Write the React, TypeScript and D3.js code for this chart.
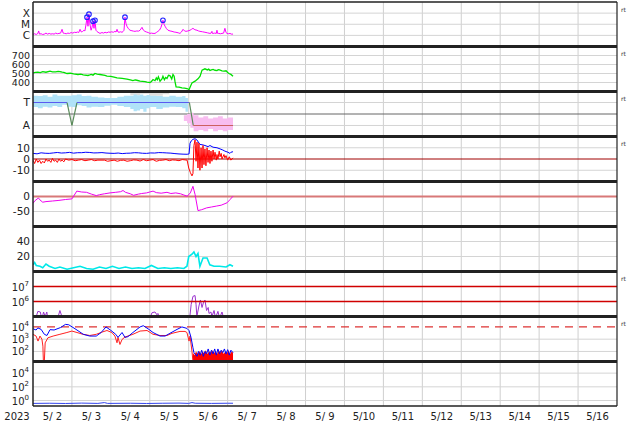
import React from "react";
import * as d3 from "d3";

type P = [number, number];
type B = [number, number, number];

// ---------------- data (hours since 2023-05-02 00:00 UT) ----------------
const yearLabel = "2023";
const dayLabels = ["5/ 2", "5/ 3", "5/ 4", "5/ 5", "5/ 6", "5/ 7", "5/ 8", "5/ 9", "5/10", "5/11", "5/12", "5/13", "5/14", "5/15", "5/16"];

// X-ray flux in 1e-6 W/m2
const xrayMicro: P[] = [[0,1.2],[1,1.4],[2,1.2],[3,1.5],[3.5,2.5],[4,1.3],[5,1.4],[6,1.2],[7,1.3],[8,1.6],[9,1.3],[10,1.5],[11,1.3],[12,1.4],[13,1.3],[14,1.6],[15,1.4],[16,1.5],[17,1.6],[17.9,3.5],[18.6,1.6],[19.5,1.5],[20.5,1.4],[21.5,1.6],[22.5,1.5],[23.5,1.8],[24.5,1.6],[25.5,1.9],[26.5,1.8],[27.5,2.0],[28.2,1.8],[29,3.5],[29.8,2.0],[30.5,2.2],[31.4,2.9],[32,2.5],[32.7,10],[33.3,43],[33.9,6.6],[34.5,81],[35.1,10],[35.8,2.9],[36.4,5.3],[37,19],[37.6,4.3],[38.2,23],[38.8,2.9],[39.5,2.2],[40.1,1.9],[41.3,1.5],[42.5,1.8],[43.5,1.6],[44.4,1.9],[45.5,1.7],[46.5,2.0],[47.5,1.9],[48.5,2.1],[49.5,1.9],[50.5,2.3],[51.2,2.0],[51.8,3.5],[52.4,2.0],[53,1.9],[54,2.1],[54.9,1.9],[55.5,2.2],[56.1,2.9],[56.7,43],[57.3,12],[57.9,6.6],[58.8,4],[59.8,2.9],[61,2.6],[62,2.4],[62.9,2.3],[64,2.5],[65,2.4],[66,2.9],[67.2,5.3],[68,3],[69,2.3],[70,2.0],[71,1.8],[72.1,1.5],[73,1.6],[74,1.5],[75.2,1.5],[76,1.8],[77,2.3],[78,3],[78.9,5.3],[79.5,10],[80.1,23],[80.8,10],[81.4,6.6],[82.3,4],[83.2,2.9],[84.5,2.5],[85.7,2.3],[87,2.0],[88.1,1.9],[89.5,1.7],[90.6,1.5],[91.5,2.0],[92.5,3.5],[93.4,2.5],[94.3,2.3],[95.5,2.5],[96.8,2.9],[97.7,3.5],[98.6,4.3],[99.8,3.2],[101.1,2.9],[102,2.5],[102.9,2.3],[104.5,2.1],[106,1.9],[107.5,1.7],[109.1,1.5],[109.8,1.6],[110.3,2.3],[110.6,1.5],[111,1.5],[112,1.6],[113,1.5],[113.4,2.9],[113.8,1.5],[114.5,1.5],[115.5,1.4],[116.5,1.5],[117.5,1.6],[118.3,4.3],[119,1.8],[119.6,1.5],[120.5,1.4],[121.4,1.5],[122.3,1.3],[123.3,1.3]];
const flaresMicro: P[] = [[33.3,43],[34.5,81],[37,19],[38.2,23],[56.7,43],[80.1,23]];
const xrayTicks = [100, 10, 1];
const xrayTickLabels = ["X", "M", "C"];

const speed: P[] = [[0,507],[1.5,512],[3,515],[4.5,510],[6,520],[8,514],[10.5,526],[12,519],[14,518],[15.5,524],[16.6,522],[18,515],[19,512],[21,500],[23,503],[25,495],[27.7,489],[29.5,492],[31,485],[33.9,478],[35,484],[36,490],[37,482],[38.2,500],[39.5,492],[41.3,489],[44.4,478],[45.6,470],[48,468],[50,460],[51.8,452],[55,445],[57.9,438],[60,430],[61.6,422],[63,428],[64,425],[66,415],[69,410],[70.3,404],[72.1,400],[73,412],[74,433],[75.2,420],[76,450],[76.6,430],[77.3,463],[78.3,415],[79.5,440],[80.1,470],[81,430],[81.8,455],[82.6,445],[83.5,480],[84.4,478],[85.5,440],[86.3,489],[87,470],[87.5,415],[88.2,352],[90,348],[91.8,341],[93.5,338],[94.9,333],[96.2,322],[98,396],[99.9,415],[101.7,441],[103,470],[104.2,537],[106,552],[107.5,540],[108.3,548],[109.1,533],[110,540],[111,545],[112.2,536],[113.4,533],[114.2,542],[115,540],[116.5,530],[117.7,526],[119,530],[120,512],[120.8,500],[122,490],[123.3,470]];
const speedTicks = [700, 600, 500, 400];

const sector: P[] = [[0,1],[21,1],[24,0],[27.1,1],[96.4,1],[98.8,0],[123.3,0]];
const sectorTicks = [1, 0];
const sectorTickLabels = ["T", "A"];
const phiToward: B[] = [[0,0.8,1.3],[3,0.75,1.28],[6,0.82,1.32],[9,0.78,1.25],[12,0.85,1.35],[15,0.8,1.3],[18,0.9,1.3],[21,0.82,1.3],[24,0.8,1.32],[27,0.88,1.35],[30,0.85,1.28],[33,0.78,1.3],[36,0.82,1.25],[40,0.8,1.22],[44,0.86,1.2],[48,0.9,1.2],[52,0.85,1.25],[56,0.8,1.3],[60,0.72,1.3],[62,0.62,1.35],[64,0.65,1.32],[66,0.72,1.35],[68,0.6,1.3],[70,0.75,1.33],[72,0.8,1.3],[76,0.72,1.28],[80,0.78,1.25],[84,0.82,1.3],[88,0.8,1.25],[92,0.75,1.28],[94,0.6,1.2],[95.5,0.6,1.2]];
const phiAway: B[] = [[93,0.2,0.45],[95,0.1,0.5],[97,-0.1,0.55],[99,-0.25,0.45],[102,-0.2,0.35],[105,-0.25,0.4],[108,-0.15,0.3],[111,-0.25,0.35],[114,-0.2,0.4],[117,-0.25,0.3],[120,-0.2,0.35],[123.3,-0.15,0.25]];
const phiGray: B[] = [[60,1.32,1.46],[66,1.38,1.46],[72,1.3,1.46],[80,1.36,1.46],[84,1.42,1.46]];

const bt: P[] = [[0,5],[2.5,4.6],[5,5.5],[7.5,5.1],[10,5],[12.5,5.4],[15,5.8],[17.5,5.3],[20,5.5],[22.5,5.9],[25,5.2],[27.5,5.6],[30,5.6],[32.5,6],[35,5.8],[37.5,5.4],[40,5.5],[42.5,5.7],[45,5.3],[47.5,5.1],[50,5],[52.5,5.3],[55,4.8],[57.5,5.1],[60,5.2],[62.5,5.6],[65,5.5],[67.5,5.1],[70,5],[72.5,5.4],[75,5.3],[77.5,5.7],[80,5.6],[82.5,5.4],[85,5.2],[87.5,4.8],[90,4.5],[92.5,4.3],[95,4.2],[96.2,4.5],[96.8,14],[97.5,16],[98.6,17.5],[99.9,18],[101,17],[102.9,13],[104.8,12.5],[106,12],[107.9,11],[109.1,12],[111,10.5],[113.4,10],[115.3,9],[117,8],[118.3,7],[120.2,6],[121.4,5],[122,6],[123.3,6.5]];
const bz: P[] = [[0,-1],[1,-4],[2,0],[3,-3],[4,-1],[5,-4],[6,-2],[7,-3.5],[8,0],[9,-2],[10,-1],[11,-3],[12,0.5],[13,-2],[14,-1],[15,-3],[16,0],[17,-2],[18,-1],[19,-2.5],[20,0],[22,-1],[24,-0.5],[26,-1.5],[28,-1],[30,-0.5],[32,-1.5],[34,-1],[36,-0.5],[38,-1.5],[40,-1],[44,-1],[46,-2],[48,-1.5],[50,-1],[52,-2],[54,-1.2],[56,-1],[58,-2],[60,-1.5],[62,-0.8],[64,-1],[66,-1.8],[68,-0.5],[70,-1.5],[72,-1],[74,-0.5],[76,-2],[78,-1.2],[80,-1],[82,-0.5],[84,-1.5],[86,-0.8],[88,-1],[90,-1.5],[92,-0.5],[95,-1],[96,-8],[97,-12],[98,-15],[98.6,-13],[99.2,12],[99.9,17],[100.5,-2],[101.1,15],[101.7,-8],[102.3,14],[102.9,-10],[103.6,10],[104.2,-8],[104.8,12],[105.4,-5],[106,9],[106.6,-6],[107.3,10],[107.9,-3],[108.5,8],[109.1,-4],[109.7,7],[110.3,-2],[111,8],[111.6,0],[112.2,6],[113,-1],[113.4,4],[114,0],[114.8,7],[115.3,2],[116,5],[116.5,0],[117.7,4],[118.3,1],[119,3],[120,-1],[121,2],[122,-1],[123.3,1]];
const imfTicks = [10, 0, -10];

const dst: P[] = [[0,-23],[1,-15],[3.3,-5],[5,-15],[6,-19],[8,-17],[12,-15],[16,-13],[20,-10],[24,-8],[25.5,5],[27,18],[30,15],[33,14],[36,8],[39,3],[41,6],[44,9],[47.5,12],[51,14],[54,16],[55.5,20],[57,14],[60,9],[62,4],[65,8],[67,10],[70,12],[72,15],[74,18],[76,13],[79,11],[82.6,14],[85,10],[88,12],[91,9],[93,5],[95,1],[97,12],[98.6,34],[99.9,7],[101.7,-47],[104,-44],[107,-38],[110,-35],[113,-32],[116,-29],[119.6,-21],[121.5,-10],[123.3,1]];
const dstTicks = [0, -50];

const density: P[] = [[0,9],[1,12],[2,8],[4.3,7],[6,5],[8,10],[10,7],[13.6,4],[16.6,6],[21,3],[25,5],[29,7],[33,4],[37,3],[41,6],[45,4],[49,7],[53,4],[57,6],[61,4],[65,5],[69,4],[73,8],[77,4],[81,5],[85,4],[89,5],[93,4],[94.9,7],[96,20],[98,23],[99.2,26],[100.5,20],[101.7,24],[102.9,7],[104.8,18],[107.3,18],[109,9],[111.6,7],[115,7],[119,6],[121.4,9],[123.3,7]];
const densityTicks = [40, 20];

const electrons: P[] = [[0,3.2e4],[2,1e5],[3,2.2e5],[4.5,2e5],[5.5,6.3e4],[6.5,2e5],[7.5,1e5],[8.5,2e5],[9.5,4e4],[14,3.2e4],[15.5,1e5],[16.6,2.5e5],[17.8,1e5],[19,3.2e4],[30,4e4],[47,6.3e4],[48,1e5],[49,5e4],[62,6.3e4],[63,1e5],[64,6.3e4],[70,4e4],[72,8e4],[73.4,1.8e5],[75.2,2e5],[76.4,1.3e5],[77,1.6e5],[78,8e4],[90,4e4],[96.5,6.3e4],[97.5,6.3e5],[98.6,2.2e6],[99.9,2.5e6],[100.5,6.3e5],[101,1e5],[102.3,5e5],[103.2,1.26e6],[104.2,4e5],[105,8e5],[106,1.26e6],[107,2.5e5],[108,4e5],[108.5,1.6e5],[109.7,2e5],[110.3,1e5],[111.6,2.5e5],[112.5,8e4],[114,2.2e5],[115,8e4],[116.5,2e5],[117.5,8e4],[120,5e4],[123,1e5]];
const electronTicks = [1e7, 1e6];

const protonBlue: P[] = [[0,7.1e3],[1.9,5.6e3],[3,8.3e3],[5,6.3e3],[7,2.5e3],[8.6,2e3],[10.5,6e3],[13,5.6e3],[17,8.9e3],[20,1.6e4],[22,1.5e4],[26.5,6.3e3],[31,2.5e3],[35,1.8e3],[39,1.8e3],[42,3.5e3],[45,1e4],[48,5.2e3],[51,2.5e3],[52.4,1.4e3],[54.9,3.5e3],[56.7,1.4e3],[58.5,1.6e3],[61.6,3.5e3],[66,1e4],[68,1.26e4],[70.9,7.1e3],[74,3.5e3],[78.3,1.8e3],[81.4,1.8e3],[84.4,3e3],[88.8,6.3e3],[91.8,1e4],[94.9,7.6e3],[96.2,5e3],[97.4,1.4e3],[98.6,200],[99.2,80],[101.1,40],[102,100],[103,50],[104,126],[105,40],[106,100],[107,63],[108,160],[109,50],[110,126],[111,63],[112,160],[113,50],[114,160],[115,63],[116,126],[117,80],[118,160],[119,63],[120,140],[121,50],[122,126],[123.3,80]];
const protonRed: P[] = [[0,2.5e3],[1.9,1.8e3],[3.1,700],[4.3,1.8e3],[5.5,1e3],[6.1,270],[6.4,16],[7,16],[7.5,500],[9.2,1.3e3],[12.4,1.8e3],[16.6,2.5e3],[20.9,3.5e3],[24,4.6e3],[27.1,3.5e3],[30.8,2.5e3],[35,2e3],[39,2.5e3],[43.1,4e3],[45.6,5.1e3],[48.6,3.5e3],[50.5,1.8e3],[51.8,510],[52.4,1.4e3],[53.6,370],[54.9,950],[56.7,1.5e3],[61.6,2.5e3],[66,4.6e3],[70.3,5.1e3],[74,2.5e3],[78.3,2e3],[82.6,2e3],[85.7,3e3],[90.6,4.3e3],[93.7,4.3e3],[94.9,3.5e3],[96.2,700],[96.8,1.8e3],[98,100],[98.6,16]];
const protonRedFill: P[] = [[98.6,80],[99.5,50],[100.5,100],[101.5,63],[102.5,110],[103.5,56],[104.5,100],[105.5,70],[106.5,126],[107.5,63],[108.5,100],[109.5,80],[110.5,126],[111.5,70],[112.5,110],[113.5,63],[114.5,126],[115.5,80],[116.5,126],[117.5,63],[118.5,100],[119.5,70],[120.5,126],[121.5,63],[122.5,100],[123.3,80]];
const protonTicks = [1e4, 1e3, 1e2];

const bottomSeries: P[] = [[0,0.38],[10,0.4],[20,0.37],[30,0.42],[40,0.38],[44,0.5],[46,0.38],[60,0.4],[70,0.37],[80,0.4],[90,0.42],[96,0.38],[98,0.5],[100,0.4],[110,0.38],[120,0.4],[123.3,0.4]];
const bottomTicks = [1e4, 1e2, 1];

// ---------------- layout ----------------
const X0 = 33, X1 = 617;
const bounds = [2, 46.5, 91.5, 136.5, 181.5, 226.5, 271.5, 316.5, 361.5, 406];
const T0 = Date.UTC(2023, 4, 2);
const T1 = Date.UTC(2023, 4, 17);
const x = d3.scaleUtc().domain([T0, T1]).range([X0, X1]);
const hx = (h: number) => x(new Date(T0 + h * 3600000));
const rng = (i: number): [number, number] => [bounds[i + 1], bounds[i]];

const yX = d3.scaleLog().domain([0.1, 1000]).range(rng(0));
const yV = d3.scaleLinear().domain([300, 800]).range(rng(1));
const yS = d3.scaleLinear().domain([-0.48, 1.48]).range(rng(2));
const yB = d3.scaleLinear().domain([-20, 20]).range(rng(3));
const yD = d3.scaleLinear().domain([-100, 50]).range(rng(4));
const yN = d3.scaleLinear().domain([0, 60]).range(rng(5));
const yE = d3.scaleLog().domain([1e5, 1e8]).range(rng(6));
const yP = d3.scaleLog().domain([Math.pow(10, 1.18), Math.pow(10, 4.85)]).range(rng(7));
const yL = d3.scaleLog().domain([Math.pow(10, -0.8), Math.pow(10, 5.7)]).range(rng(8));

const FONT = "DejaVu Sans, Verdana, sans-serif";

function mkLine(y: (v: number) => number, data: P[]) {
  return d3.line<P>().x(d => hx(d[0])).y(d => y(d[1]))(data) || "";
}
function mkBand(y: (v: number) => number, data: B[]) {
  return d3.area<B>().x(d => hx(d[0])).y0(d => y(d[1])).y1(d => y(d[2])).curve(d3.curveStepAfter)(data) || "";
}
function mkFill(y: (v: number) => number, base: number, data: P[]) {
  return d3.area<P>().x(d => hx(d[0])).y0(base).y1(d => y(d[1]))(data) || "";
}

function SupLabel({ y, exp }: { y: number; exp: string }) {
  return (
    <text x={29} y={y + 4} textAnchor="end" fontSize={10} fontFamily={FONT} fill="#222">
      10<tspan dy={-5} fontSize={7}>{exp}</tspan>
    </text>
  );
}
function Label({ y, text, size = 10.5 }: { y: number; text: string; size?: number }) {
  return (
    <text x={30} y={y + size * 0.36} textAnchor="end" fontSize={size} fontFamily={FONT} fill="#222">{text}</text>
  );
}
function HLine({ y, color, w = 1, dash }: { y: number; color: string; w?: number; dash?: string }) {
  return <line x1={X0} x2={X1} y1={y} y2={y} stroke={color} strokeWidth={w} strokeDasharray={dash} />;
}

export default function App() {
  const days = d3.range(1, 15);
  const rtPanels = [0, 1, 2, 3, 6, 7];
  const GRID = "#d4d4d4";
  const sectorColor = (a: number, b: number) => (a === 1 && b === 1 ? "#5a5af0" : a === 0 && b === 0 ? "#cc6060" : "#5a8a5a");
  const gridYs = [
    ...xrayTicks.map(v => yX(v)),
    ...speedTicks.map(v => yV(v)),
    ...sectorTicks.map(v => yS(v)),
    yB(10), yB(-10),
    yD(-50),
    ...densityTicks.map(v => yN(v)),
    yP(1e3), yP(1e2),
    ...bottomTicks.map(v => yL(v)),
  ];
  return (
    <svg width={634} height={424} style={{ position: "fixed", left: 0, top: 0, background: "#fff" }}>
      <defs>
        {d3.range(9).map(i => (
          <clipPath id={`cp${i}`} key={i}>
            <rect x={X0} y={bounds[i]} width={X1 - X0} height={bounds[i + 1] - bounds[i]} />
          </clipPath>
        ))}
      </defs>
      <rect x={0} y={0} width={634} height={424} fill="#fff" />
      {days.map(d => {
        const xx = x(new Date(T0 + d * 86400000));
        return <line key={d} x1={xx} x2={xx} y1={bounds[0]} y2={bounds[9]} stroke="#cfcfcf" strokeWidth={1} />;
      })}
      {gridYs.map((yy, i) => <HLine key={"g" + i} y={yy} color={GRID} />)}
      <HLine y={yS(0.5)} color="#666666" />
      <HLine y={yB(0)} color="#a00000" />
      <HLine y={yD(0)} color="#d87878" w={2} />
      <HLine y={yP(1e4)} color="#dd3333" w={1.3} dash="8,6" />

      <g clipPath="url(#cp0)">
        <path d={mkLine(yX, xrayMicro)} fill="none" stroke="#ff00ff" strokeWidth={1} />
        {flaresMicro.map((f, i) => <circle key={i} cx={hx(f[0])} cy={yX(f[1])} r={2.3} fill="none" stroke="#2020ff" strokeWidth={1.1} />)}
      </g>
      <g clipPath="url(#cp1)">
        <path d={mkLine(yV, speed)} fill="none" stroke="#00e000" strokeWidth={1.3} />
      </g>
      <g clipPath="url(#cp2)">
        <path d={mkBand(yS, phiGray)} fill="#dddddd" />
        <path d={mkBand(yS, phiToward)} fill="#b0e2f8" />
        <path d={mkBand(yS, phiAway)} fill="#f8bdf0" />
        {sector.slice(1).map((p, i) => {
          const a = sector[i];
          return <line key={i} x1={hx(a[0])} y1={yS(a[1])} x2={hx(p[0])} y2={yS(p[1])} stroke={sectorColor(a[1], p[1])} strokeWidth={1.2} />;
        })}
      </g>
      <g clipPath="url(#cp3)">
        <path d={mkLine(yB, bt)} fill="none" stroke="#0000ff" strokeWidth={1} />
        <path d={mkLine(yB, bz)} fill="none" stroke="#ff0000" strokeWidth={1} />
      </g>
      <g clipPath="url(#cp4)">
        <path d={mkLine(yD, dst)} fill="none" stroke="#ee00ee" strokeWidth={1} />
      </g>
      <g clipPath="url(#cp5)">
        <path d={mkLine(yN, density)} fill="none" stroke="#00e8e8" strokeWidth={1.6} />
      </g>
      <g clipPath="url(#cp6)">
        <path d={mkLine(yE, electrons)} fill="none" stroke="#9a32cd" strokeWidth={1} />
      </g>
      {electronTicks.map(v => (
        <rect key={"er" + v} x={X0} y={yE(v) - 0.75} width={X1 - X0} height={1.5} fill="#d00000" />
      ))}
      <g clipPath="url(#cp7)">
        <path d={mkFill(yP, bounds[8], protonRedFill)} fill="#ff0000" />
        <path d={mkLine(yP, protonRed)} fill="none" stroke="#ff2020" strokeWidth={1} />
        <path d={mkLine(yP, protonBlue)} fill="none" stroke="#0000ff" strokeWidth={1} />
      </g>
      <g clipPath="url(#cp8)">
        <path d={mkLine(yL, bottomSeries)} fill="none" stroke="#3344ee" strokeWidth={1} />
      </g>

      {bounds.slice(1, 9).map((b, i) => <HLine key={"s" + i} y={b} color="#222222" w={3} />)}
      <HLine y={bounds[0]} color="#222222" w={1.5} />
      <HLine y={bounds[9]} color="#222222" w={1.5} />
      <line x1={X0} x2={X0} y1={bounds[0]} y2={bounds[9]} stroke="#222" strokeWidth={1.5} />
      <line x1={X1} x2={X1} y1={bounds[0]} y2={bounds[9]} stroke="#222" strokeWidth={1.2} />

      {xrayTicks.map((v, i) => <Label key={"x" + i} y={yX(v)} text={xrayTickLabels[i]} />)}
      {speedTicks.map(v => <Label key={"v" + v} y={yV(v)} text={String(v)} size={9.5} />)}
      {sectorTicks.map((v, i) => <Label key={"s" + i} y={yS(v)} text={sectorTickLabels[i]} />)}
      {imfTicks.map(v => <Label key={"b" + v} y={yB(v)} text={v < 0 ? "-" + Math.abs(v) : String(v)} />)}
      {dstTicks.map(v => <Label key={"d" + v} y={yD(v)} text={v < 0 ? "-" + Math.abs(v) : String(v)} />)}
      {densityTicks.map(v => <Label key={"n" + v} y={yN(v)} text={String(v)} />)}
      {electronTicks.map(v => <SupLabel key={"e" + v} y={yE(v)} exp={String(Math.round(Math.log10(v)))} />)}
      {protonTicks.map(v => <SupLabel key={"p" + v} y={yP(v)} exp={String(Math.round(Math.log10(v)))} />)}
      {bottomTicks.map(v => <SupLabel key={"l" + v} y={yL(v)} exp={String(Math.round(Math.log10(v)))} />)}

      {rtPanels.map(i => (
        <text key={"rt" + i} x={621} y={bounds[i] + 9.5} fontSize={6} fontFamily={FONT} fill="#333">rt</text>
      ))}

      <text x={17} y={419.5} textAnchor="middle" fontSize={10} fontFamily={FONT} fill="#222">{yearLabel}</text>
      {dayLabels.map((l, i) => (
        <text key={l} x={x(new Date(T0 + (i + 0.5) * 86400000))} y={419.5} textAnchor="middle" fontSize={10} fontFamily={FONT} fill="#222">{l}</text>
      ))}
    </svg>
  );
}
